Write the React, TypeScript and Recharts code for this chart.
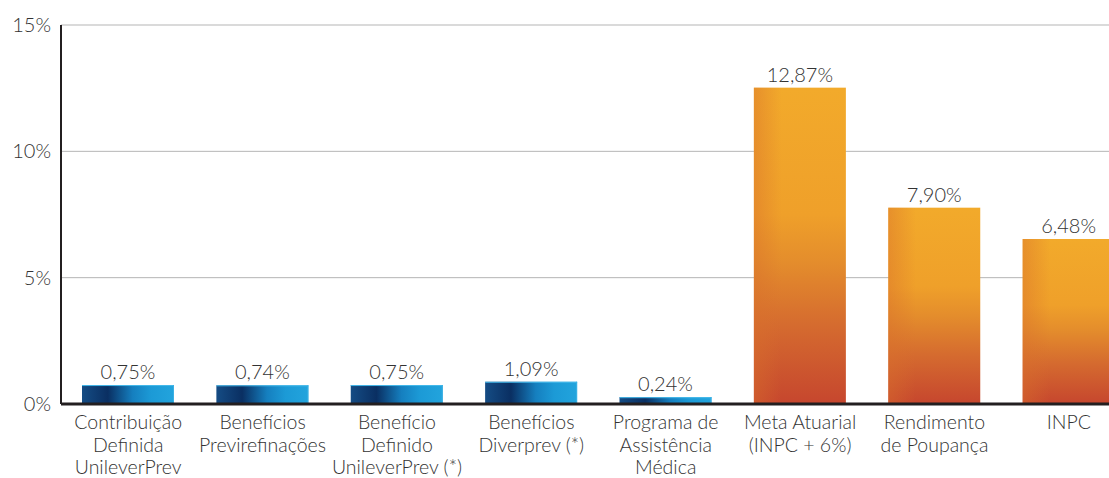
import { BarChart, Bar, XAxis, YAxis, CartesianGrid, ReferenceLine, LabelList } from 'recharts'

// categorias (quebras de linha como no original)
const categorias = [
  'Contribuição\nDefinida\nUnileverPrev',
  'Benefícios\nPrevirefinações',
  'Benefício\nDefinido\nUnileverPrev (*)',
  'Benefícios\nDiverprev (*)',
  'Programa de\nAssistência\nMédica',
  'Meta Atuarial\n(INPC + 6%)',
  'Rendimento\nde Poupança',
  'INPC',
]
// altura das barras (%)
const valores = [0.75, 0.74, 0.75, 0.88, 0.27, 12.52, 7.77, 6.53]
// rótulos impressos acima das barras
const rotulos = ['0,75%', '0,74%', '0,75%', '1,09%', '0,24%', '12,87%', '7,90%', '6,48%']
// plano = rentabilidade dos planos, indice = referências
const tipos = ['plano', 'plano', 'plano', 'plano', 'plano', 'indice', 'indice', 'indice']
const yTicks = [0, 5, 10, 15]

const TEXT = '#333333'
const AXIS = '#231f20'
const FONT = 'Lato, "Open Sans", sans-serif'

const data = categorias.map((name, i) => ({
  name, value: valores[i], label: rotulos[i], tipo: tipos[i],
}))

function BarShape(props: any) {
  const { x, y, width, height, payload } = props
  if (!height || height <= 0) return null
  if (payload.tipo === 'plano') {
    return (
      <g>
        <rect x={x} y={y} width={width} height={height} fill="url(#gradAzul)" />
        <line x1={x} x2={x + width} y1={y + 0.5} y2={y + 0.5} stroke="#45b9ea" strokeWidth={1} />
        <line x1={x + width - 0.5} x2={x + width - 0.5} y1={y} y2={y + height} stroke="#3ab0e4" strokeWidth={1} />
      </g>
    )
  }
  return (
    <g>
      <rect x={x} y={y} width={width} height={height} fill="url(#gradLaranja)" />
      <rect x={x} y={y} width={width} height={height} fill="url(#gradLaranjaLado)" />
    </g>
  )
}

function CategoryTick({ x, y, payload }: any) {
  const lines = String(payload.value).split('\n')
  return (
    <text x={x} y={y + 25} textAnchor="middle" fill={TEXT} fontSize={19.5} fontWeight={300} fontFamily={FONT}>
      {lines.map((l, i) => (
        <tspan key={i} x={x} dy={i === 0 ? 0 : 22.5}>{l}</tspan>
      ))}
    </text>
  )
}

export default function App() {
  return (
    <div style={{ position: 'absolute', left: 0, top: 0, width: 1109, height: 478, overflow: 'hidden', background: '#fff' }}>
      <BarChart width={1136} height={478} data={data}
        margin={{ top: 25, right: 0, left: 0, bottom: 0 }} style={{ fontFamily: FONT }}>
        <defs>
          <linearGradient id="gradAzul" x1="0" y1="0" x2="1" y2="0">
            <stop offset="0" stopColor="#154c84" />
            <stop offset="0.28" stopColor="#0a2f62" />
            <stop offset="0.55" stopColor="#157fbf" />
            <stop offset="0.75" stopColor="#1c9ad6" />
            <stop offset="1" stopColor="#22a4dd" />
          </linearGradient>
          <linearGradient id="gradLaranja" x1="0" y1="0" x2="0" y2="1">
            <stop offset="0" stopColor="#f2aa2b" />
            <stop offset="0.4" stopColor="#efa02a" />
            <stop offset="0.55" stopColor="#e48d2c" />
            <stop offset="0.75" stopColor="#d56b2f" />
            <stop offset="1" stopColor="#c6462e" />
          </linearGradient>
          <linearGradient id="gradLaranjaLado" x1="0" y1="0" x2="1" y2="0">
            <stop offset="0" stopColor="#d9702c" stopOpacity={0.45} />
            <stop offset="0.3" stopColor="#d9702c" stopOpacity={0} />
            <stop offset="1" stopColor="#d9702c" stopOpacity={0} />
          </linearGradient>
        </defs>
        <CartesianGrid vertical={false} stroke="#b5b5b5" strokeWidth={1} />
        <XAxis dataKey="name" interval={0} tickLine={false} axisLine={false}
          tickSize={0} tickMargin={0} height={74} tick={<CategoryTick />} />
        <YAxis domain={[0, 15]} ticks={yTicks} width={61} tickLine={false} tickSize={0} tickMargin={10}
          axisLine={{ stroke: AXIS, strokeWidth: 2 }}
          tick={{ fill: TEXT, fontSize: 20, fontWeight: 300, fontFamily: FONT }}
          tickFormatter={(v: number) => `${v}%`} />
        <Bar dataKey="value" barSize={92} isAnimationActive={false} shape={<BarShape />}>
          <LabelList dataKey="label" position="top" offset={6} fill={TEXT} fontSize={20} fontWeight={300} fontFamily={FONT} />
        </Bar>
        <ReferenceLine y={0} stroke={AXIS} strokeWidth={3} />
      </BarChart>
    </div>
  )
}
